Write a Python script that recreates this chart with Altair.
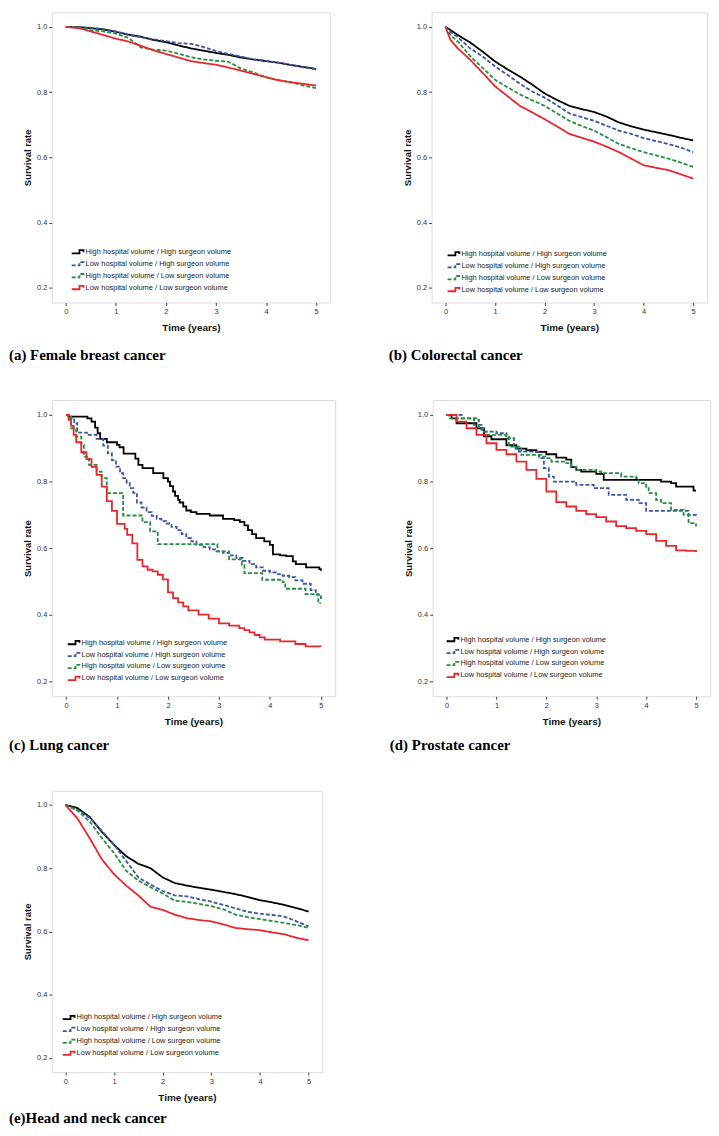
import altair as alt
import pandas as pd

GROUPS = [
    "High hospital volume / High surgeon volume",
    "Low hospital volume / High surgeon volume",
    "High hospital volume / Low surgeon volume",
    "Low hospital volume / Low surgeon volume",
]
COLORS = ["#000000", "#3b55a5", "#23903f", "#e8262c"]
DASHES = [[1, 0], [4, 2], [4, 2], [1, 0]]

# ---- (a) Female breast cancer ----
A_T = [0, 0.25, 0.5, 0.75, 1, 1.25, 1.5, 1.75, 2, 2.25, 2.5, 2.75, 3, 3.25, 3.5, 3.75, 4, 4.25, 4.5, 4.75, 5]
A_HH = [1.0, 0.999, 0.996, 0.992, 0.985, 0.976, 0.97, 0.96, 0.953, 0.943, 0.934, 0.927, 0.92, 0.914, 0.906, 0.9, 0.895, 0.89, 0.883, 0.877, 0.871]
A_LH = [1.0, 0.999, 0.997, 0.993, 0.986, 0.975, 0.968, 0.962, 0.956, 0.95, 0.948, 0.938, 0.926, 0.917, 0.909, 0.9, 0.896, 0.89, 0.883, 0.876, 0.87]
A_HL = [1.0, 0.998, 0.99, 0.986, 0.979, 0.966, 0.937, 0.93, 0.927, 0.918, 0.907, 0.9, 0.896, 0.893, 0.872, 0.86, 0.845, 0.837, 0.83, 0.82, 0.812]
A_LL = [1.0, 0.996, 0.986, 0.975, 0.964, 0.955, 0.942, 0.928, 0.917, 0.906, 0.895, 0.889, 0.884, 0.875, 0.866, 0.856, 0.846, 0.836, 0.83, 0.825, 0.82]

# ---- (b) Colorectal cancer ----
B_T = [0, 0.1, 0.25, 0.5, 0.75, 1, 1.25, 1.5, 1.75, 2, 2.25, 2.5, 2.75, 3, 3.25, 3.5, 3.75, 4, 4.25, 4.5, 4.75, 5]
B_HH = [1.0, 0.99, 0.975, 0.952, 0.924, 0.894, 0.87, 0.848, 0.823, 0.796, 0.776, 0.758, 0.748, 0.739, 0.725, 0.707, 0.695, 0.685, 0.677, 0.669, 0.66, 0.652]
B_LH = [1.0, 0.985, 0.968, 0.934, 0.909, 0.879, 0.853, 0.826, 0.802, 0.783, 0.76, 0.735, 0.723, 0.712, 0.697, 0.682, 0.672, 0.659, 0.65, 0.641, 0.63, 0.616]
B_HL = [1.0, 0.975, 0.955, 0.91, 0.874, 0.838, 0.815, 0.793, 0.775, 0.758, 0.735, 0.712, 0.696, 0.682, 0.662, 0.641, 0.628, 0.616, 0.606, 0.596, 0.584, 0.571]
B_LL = [1.0, 0.96, 0.934, 0.899, 0.859, 0.818, 0.788, 0.758, 0.738, 0.717, 0.695, 0.672, 0.66, 0.648, 0.633, 0.616, 0.596, 0.576, 0.568, 0.561, 0.548, 0.535]

# ---- (c) Lung cancer (step curves) ----
C_HH_T = [0, 0.05, 0.42, 0.5, 0.57, 0.62, 0.67, 0.8, 1.0, 1.05, 1.13, 1.36, 1.42, 1.5, 1.71, 1.91, 2.0, 2.04, 2.1, 2.14, 2.2,
          2.23, 2.3, 2.36, 2.45, 2.56, 2.82, 3.08, 3.3, 3.41, 3.5, 3.57, 3.65, 3.73, 3.89, 4.0, 4.06, 4.2, 4.32, 4.45, 4.51,
          4.71, 4.97, 5.0]
C_HH = [1.0, 0.995, 0.99, 0.98, 0.962, 0.945, 0.928, 0.918, 0.91, 0.903, 0.884, 0.869, 0.85, 0.84, 0.825, 0.81, 0.8, 0.786, 0.77,
        0.757, 0.745, 0.737, 0.725, 0.713, 0.708, 0.703, 0.698, 0.688, 0.684, 0.679, 0.668, 0.654, 0.642, 0.63, 0.62, 0.61,
        0.581, 0.578, 0.576, 0.56, 0.552, 0.542, 0.537, 0.532]
C_LH_T = [0, 0.08, 0.16, 0.22, 0.41, 0.6, 0.73, 0.82, 0.9, 0.98, 1.06, 1.12, 1.19, 1.25, 1.32, 1.39, 1.48, 1.58, 1.68, 1.78,
          1.87, 1.97, 2.07, 2.17, 2.27, 2.36, 2.46, 2.56, 2.7, 2.82, 2.95, 3.08, 3.2, 3.34, 3.47, 3.6, 3.73, 3.86, 4.0, 4.12,
          4.25, 4.38, 4.5, 4.64, 4.8, 4.9, 5.0]
C_LH = [1.0, 0.99, 0.975, 0.947, 0.94, 0.928, 0.908, 0.885, 0.864, 0.845, 0.825, 0.81, 0.796, 0.78, 0.766, 0.737, 0.722, 0.708,
        0.697, 0.688, 0.681, 0.674, 0.664, 0.654, 0.642, 0.63, 0.62, 0.61, 0.603, 0.596, 0.59, 0.586, 0.578, 0.571, 0.562, 0.552,
        0.542, 0.532, 0.527, 0.522, 0.517, 0.513, 0.503, 0.493, 0.474, 0.46, 0.447]
C_HL_T = [0, 0.1, 0.2, 0.3, 0.35, 0.45, 0.6, 0.7, 0.8, 1.12, 1.5, 1.65, 1.8, 2.97, 3.2, 3.45, 3.5, 3.85, 4.25, 4.3, 4.7, 4.95, 5.0]
C_HL = [1.0, 0.96, 0.935, 0.91, 0.875, 0.85, 0.83, 0.81, 0.765, 0.698, 0.678, 0.65, 0.612, 0.59, 0.566, 0.55, 0.525, 0.505,
        0.498, 0.478, 0.462, 0.435, 0.435]
C_LL_T = [0, 0.05, 0.1, 0.15, 0.2, 0.3, 0.4, 0.5, 0.6, 0.7, 0.8, 0.9, 1.0, 1.15, 1.2, 1.3, 1.4, 1.5, 1.6, 1.7, 1.8, 1.9, 2.0,
          2.1, 2.2, 2.3, 2.4, 2.6, 2.8, 3.0, 3.2, 3.4, 3.5, 3.6, 3.7, 3.8, 3.9, 4.2, 4.5, 4.7, 5.0]
C_LL = [1.0, 0.985, 0.967, 0.94, 0.918, 0.888, 0.867, 0.844, 0.82, 0.785, 0.741, 0.712, 0.673, 0.658, 0.64, 0.614, 0.565, 0.545,
        0.535, 0.53, 0.52, 0.506, 0.467, 0.45, 0.437, 0.425, 0.413, 0.4, 0.388, 0.374, 0.367, 0.36, 0.354, 0.347, 0.339, 0.332,
        0.325, 0.32, 0.312, 0.305, 0.304]

# ---- (d) Prostate cancer (step curves) ----
D_HH_T = [0, 0.1, 0.2, 0.6, 0.75, 0.9, 1.2, 1.4, 1.6, 1.8, 2.0, 2.2, 2.4, 2.5, 2.6, 2.7, 3.0, 3.15, 4.3, 4.5, 4.6, 4.95, 5.0]
D_HH = [1.0, 0.99, 0.975, 0.96, 0.936, 0.927, 0.909, 0.899, 0.894, 0.889, 0.882, 0.872, 0.866, 0.843, 0.835, 0.83, 0.823,
        0.805, 0.8, 0.795, 0.785, 0.773, 0.773]
D_LH_T = [0, 0.3, 0.55, 0.7, 0.75, 1.0, 1.2, 1.35, 1.45, 1.85, 1.95, 2.05, 2.15, 2.6, 2.95, 3.25, 3.6, 3.85, 4.0, 4.85, 5.0]
D_LH = [1.0, 0.99, 0.97, 0.955, 0.95, 0.945, 0.93, 0.9, 0.89, 0.87, 0.84, 0.815, 0.8, 0.79, 0.78, 0.76, 0.745, 0.735, 0.712,
        0.7, 0.695]
D_HL_T = [0, 0.05, 0.6, 0.65, 0.75, 0.8, 1.2, 1.25, 1.5, 1.9, 2.0, 2.1, 2.4, 2.5, 2.6, 3.0, 3.1, 3.5, 3.8, 3.85, 4.0, 4.05,
          4.2, 4.3, 4.5, 4.75, 4.85, 5.0]
D_HL = [1.0, 0.99, 0.985, 0.96, 0.95, 0.94, 0.935, 0.905, 0.88, 0.875, 0.87, 0.86, 0.855, 0.845, 0.835, 0.83, 0.825, 0.815,
        0.81, 0.795, 0.78, 0.765, 0.745, 0.735, 0.715, 0.7, 0.675, 0.665]
D_LL_T = [0, 0.2, 0.4, 0.6, 0.8, 1.0, 1.2, 1.4, 1.6, 1.8, 2.0, 2.2, 2.4, 2.6, 2.8, 3.0, 3.2, 3.4, 3.6, 3.8, 4.0, 4.2, 4.4,
          4.6, 4.8, 5.0]
D_LL = [1.0, 0.98, 0.96, 0.94, 0.915, 0.895, 0.882, 0.86, 0.835, 0.808, 0.77, 0.738, 0.725, 0.712, 0.702, 0.693, 0.68, 0.666,
        0.66, 0.652, 0.642, 0.622, 0.607, 0.593, 0.592, 0.588]

# ---- (e) Head and neck cancer ----
E_T = [0, 0.25, 0.5, 0.75, 1, 1.25, 1.5, 1.75, 2, 2.25, 2.5, 2.75, 3, 3.25, 3.5, 3.75, 4, 4.25, 4.5, 4.75, 5]
E_HH = [1.0, 0.99, 0.962, 0.915, 0.874, 0.838, 0.814, 0.8, 0.771, 0.753, 0.745, 0.738, 0.732, 0.725, 0.718, 0.709, 0.699, 0.692, 0.684, 0.674, 0.663]
E_LH = [1.0, 0.985, 0.959, 0.918, 0.874, 0.823, 0.771, 0.748, 0.728, 0.714, 0.711, 0.702, 0.694, 0.684, 0.673, 0.662, 0.656, 0.652, 0.647, 0.632, 0.616]
E_HL = [1.0, 0.982, 0.948, 0.895, 0.848, 0.792, 0.761, 0.74, 0.72, 0.697, 0.694, 0.687, 0.68, 0.67, 0.653, 0.645, 0.639, 0.633, 0.627, 0.62, 0.611]
E_LL = [1.0, 0.957, 0.895, 0.828, 0.781, 0.745, 0.714, 0.678, 0.668, 0.653, 0.642, 0.636, 0.632, 0.622, 0.611, 0.607, 0.604, 0.597, 0.591, 0.58, 0.572]

CAPTIONS = ["(a) Female breast cancer", "(b) Colorectal cancer", "(c) Lung cancer", "(d) Prostate cancer",
            "(e)Head and neck cancer"]

SANS = "Liberation Sans"
STEP_SYMBOL = "M-1.25,0.35H0.4V-0.35H1.25V0.05"


def frame(series):
    rows = []
    for gi, (ts, vs) in enumerate(series):
        for t, v in zip(ts, vs):
            rows.append({"t": t, "s": v, "group": GROUPS[gi], "k": gi})
    return pd.DataFrame(rows)


def panel(series, caption, w, h, interp, lx, ly, cap_offset):
    df = frame(series)
    leg = alt.Legend(
        title=None, orient="none", legendX=lx, legendY=ly, symbolType=STEP_SYMBOL,
        symbolSize=90, symbolStrokeWidth=1.8, symbolFillColor="transparent", labelFontSize=7.5, labelFont=SANS,
        labelColor="#222", rowPadding=0, labelOffset=2, padding=0,
    )
    return alt.Chart(df).mark_line(strokeWidth=1.8, interpolate=interp).encode(
        x=alt.X("t:Q", scale=alt.Scale(domain=[-0.28, 5.28], nice=False, zero=False),
                axis=alt.Axis(values=[0, 1, 2, 3, 4, 5], format="d", title="Time (years)", grid=False,
                              domain=False, tickSize=3, tickColor="#444", labelFontSize=7.5, labelFont=SANS,
                              labelColor="#333", labelPadding=2, titleFont=SANS, titleFontSize=10,
                              titleFontWeight="bold", titleColor="#111", titlePadding=8)),
        y=alt.Y("s:Q", scale=alt.Scale(domain=[0.155, 1.045], nice=False, zero=False),
                axis=alt.Axis(values=[0.2, 0.4, 0.6, 0.8, 1.0], format=".1f", title="Survival rate", grid=False,
                              domain=False, tickSize=3, tickColor="#444", labelFontSize=7.5, labelFont=SANS,
                              labelColor="#333", labelPadding=2, titleFont=SANS, titleFontSize=9.5,
                              titleFontWeight="bold", titleColor="#111", titlePadding=4)),
        color=alt.Color("group:N", scale=alt.Scale(domain=GROUPS, range=COLORS), legend=leg),
        strokeDash=alt.StrokeDash("group:N", scale=alt.Scale(domain=GROUPS, range=DASHES), legend=leg),
        order=alt.Order("t:Q"),
    ).properties(
        width=w, height=h,
        title=alt.TitleParams(text=caption, orient="bottom", anchor="start", frame="group", dx=-43,
                              offset=cap_offset, font="Liberation Serif", fontSize=15, fontWeight="bold",
                              color="#000"),
    )


pa = panel([(A_T, A_HH), (A_T, A_LH), (A_T, A_HL), (A_T, A_LL)], CAPTIONS[0], 280, 292, "linear", 20, 235, 15)
pb = panel([(B_T, B_HH), (B_T, B_LH), (B_T, B_HL), (B_T, B_LL)], CAPTIONS[1], 277, 292, "linear", 16, 237, 15)
pc = panel([(C_HH_T, C_HH), (C_LH_T, C_LH), (C_HL_T, C_HL), (C_LL_T, C_LL)], CAPTIONS[2], 285, 298,
           "step-after", 16, 238, 12)
pd_ = panel([(D_HH_T, D_HH), (D_LH_T, D_LH), (D_HL_T, D_HL), (D_LL_T, D_LL)], CAPTIONS[3], 279, 298,
            "step-after", 14, 235, 12)
pe = panel([(E_T, E_HH), (E_T, E_LH), (E_T, E_HL), (E_T, E_LL)], CAPTIONS[4], 272, 283, "linear", 11, 222, 9)

IND = dict(color="independent", strokeDash="independent")

row1 = alt.hconcat(pa, pb, spacing=57).resolve_scale(**IND).resolve_legend(**IND)
row2 = alt.hconcat(pc, pd_, spacing=53).resolve_scale(**IND).resolve_legend(**IND)

chart = alt.vconcat(row1, row2, pe, spacing=36).resolve_scale(**IND).resolve_legend(**IND).properties(
    padding={"left": 0, "top": 0, "right": 0, "bottom": 0}
).configure_view(stroke="#7a7a7a", strokeWidth=1).configure(background="white")

chart.save("out.html", embed_options={"renderer": "svg", "actions": False})
